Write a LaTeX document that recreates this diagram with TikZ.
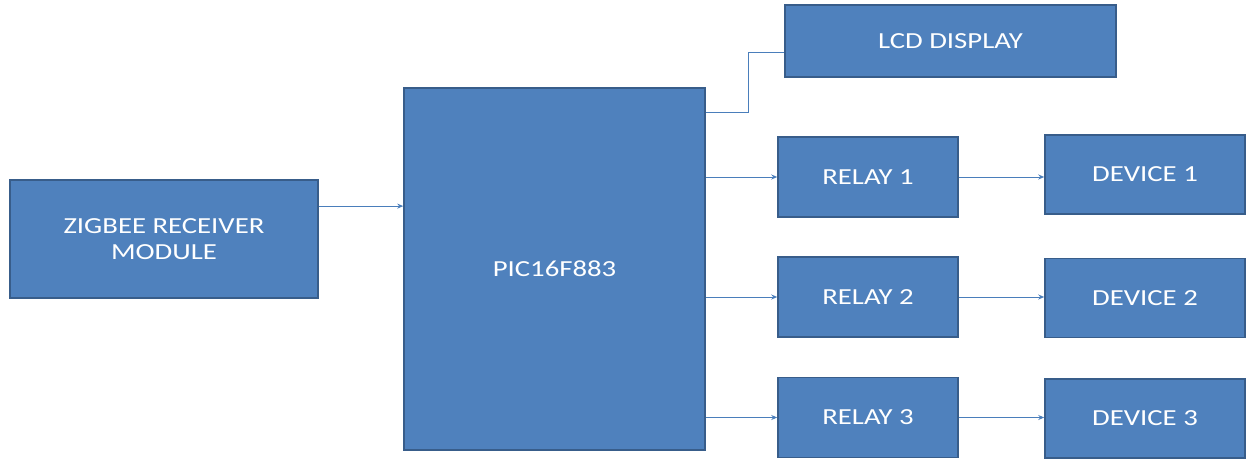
\documentclass[tikz,border=0pt]{standalone}
\usepackage{fontspec}
\setmainfont{Carlito}[FakeStretch=1.25]
\usepackage{xcolor}
\usetikzlibrary{arrows.meta,positioning}

\definecolor{boxfill}{HTML}{4F81BD}
\definecolor{boxedge}{HTML}{385D8A}
\definecolor{wirecol}{HTML}{4A7EBB}

\tikzset{
  blockbox/.style={draw=boxedge, line width=1.5pt, fill=boxfill, text=white,
    font=\fontsize{23}{26}\selectfont, align=center, inner sep=0pt},
  sigline/.style={draw=wirecol, line width=1pt, -{Stealth[length=6pt,width=5pt]}},
  plainline/.style={draw=wirecol, line width=1pt}
}

\begin{document}
\begin{tikzpicture}[x=1pt,y=-1pt]
\useasboundingbox (0,0) rectangle (1248,461);

% Input side
\node[blockbox, minimum width=308pt, minimum height=118pt] (zig) at (164,239) {ZIGBEE RECEIVER\\MODULE};
\node[blockbox, minimum width=301pt, minimum height=362pt] (pic) at (554.5,269) {PIC16F883};

% Display
\node[blockbox, minimum width=331pt, minimum height=72pt] (lcd) at (950.5,41) {LCD DISPLAY};

% Relays and devices
\foreach \i/\ry/\dy in {1/177/174.5, 2/297/298, 3/417.5/418.5} {
    \node[blockbox, minimum width=180pt, minimum height=80pt] (rel\i) at (868,\ry) {RELAY \i};
    \node[blockbox, minimum width=200pt, minimum height=79pt] (dev\i) at (1145,\dy) {DEVICE \i};
}

% Connections
\draw[sigline] (zig.12) -- (pic.west |- zig.12);
\draw[plainline] (pic.46) -- ++(43,0) |- (lcd.184);
\foreach \i in {1,2,3} {
    \draw[sigline] (pic.east |- rel\i.west) -- (rel\i.west);
    \draw[sigline] (rel\i.east) -- (dev\i.west |- rel\i.east);
}

\end{tikzpicture}
\end{document}
